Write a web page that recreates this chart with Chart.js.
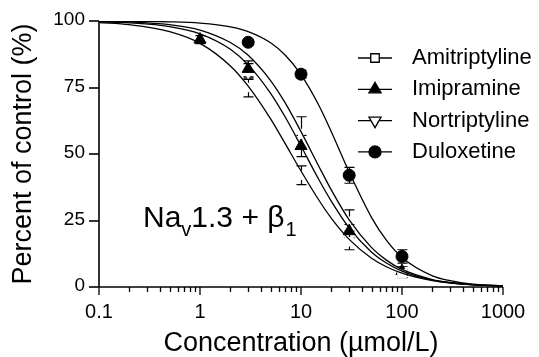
<!DOCTYPE html>
<html>
<head>
<meta charset="utf-8">
<script src="https://cdn.jsdelivr.net/npm/chart.js@4"></script>
<style>
  html, body { margin: 0; padding: 0; background: #fff; }
  #wrap { width: 539px; height: 357px; }
</style>
</head>
<body>
<div id="wrap"><canvas id="chart" width="539" height="357"></canvas></div>
<script>
// ── data ──────────────────────────────────────────────────
const drugs = ['Amitriptyline', 'Imipramine', 'Nortriptyline', 'Duloxetine'];

// fitted curves
const curveConc = [0.1, 0.2, 0.5, 1, 2, 3, 5, 7, 10, 15, 20, 30, 50, 70, 100, 200, 300, 500, 1000];
const amiCurve  = [99.4, 98.6, 96.0, 91.6, 83.1, 75.5, 63.2, 53.8, 43.6, 32.7, 25.8, 17.9, 10.8, 7.6, 5.2, 2.4, 1.5, 0.9, 0.4];
const imiCurve  = [99.7, 99.3, 97.9, 95.2, 89.4, 83.5, 72.8, 63.8, 53.0, 40.4, 32.2, 22.2, 13.1, 9.0, 6.0, 2.6, 1.6, 0.8, 0.4];
const norCurve  = [99.8, 99.6, 98.6, 96.6, 91.9, 87.1, 77.6, 69.1, 58.4, 45.4, 36.4, 25.2, 14.8, 10.1, 6.6, 2.8, 1.7, 0.9, 0.4];
const dulCurve  = [100, 99.9, 99.7, 99.2, 97.8, 96.0, 91.8, 87.1, 79.8, 68.3, 58.3, 43.2, 26.1, 17.6, 11.1, 4.2, 2.4, 1.1, 0.4];

// measured points (mean ± SEM)
const amiConc = [3, 10, 30, 100];
const amiMean = [75, 42, 17, 5];
const amiErr  = [3.5, 3.5, 3, 1.5];

const imiConc = [1, 3, 10, 30, 100];
const imiMean = [93, 82, 53, 21, 6];
const imiErr  = [1.5, 3, 4, 2.5, 1.5];

const norConc = [3, 10, 30, 100];
const norMean = [81, 58, 25, 6];
const norErr  = [3, 6, 4, 1.5];

const dulConc = [3, 10, 30, 100];
const dulMean = [92, 80, 42, 11.5];
const dulErr  = [1, 1.5, 3, 2.5];

const xTicks = [0.1, 1, 10, 100, 1000];
const xTickLabels = ['0.1', '1', '10', '100', '1000'];
const yTicks = [0, 25, 50, 75, 100];

const FONT = "'Liberation Sans', Arial, sans-serif";

// ── helpers ───────────────────────────────────────────────
const pts = (xs, ys) => xs.map((x, i) => ({ x: x, y: ys[i] }));

const markers = [
  { style: 'rect',     radius: 6, rot: 0,   fill: '#fff', hollow: true  },
  { style: 'triangle', radius: 7, rot: 0,   fill: '#000', hollow: false },
  { style: 'triangle', radius: 7, rot: 180, fill: '#fff', hollow: true  },
  { style: 'circle',   radius: 6, rot: 0,   fill: '#000', hollow: false }
];

const curves = [amiCurve, imiCurve, norCurve, dulCurve];
const pointSets = [
  { conc: amiConc, mean: amiMean, err: amiErr },
  { conc: imiConc, mean: imiMean, err: imiErr },
  { conc: norConc, mean: norMean, err: norErr },
  { conc: dulConc, mean: dulMean, err: dulErr }
];

const datasets = [];
curves.forEach((c, i) => {
  datasets.push({
    label: drugs[i] + ' fit',
    data: pts(curveConc, c),
    borderColor: '#000', borderWidth: 1.3,
    pointRadius: 0, fill: false,
    cubicInterpolationMode: 'monotone'
  });
});
pointSets.forEach((p, i) => {
  const m = markers[i];
  datasets.push({
    label: drugs[i],
    data: pts(p.conc, p.mean),
    showLine: false,
    pointStyle: m.style, pointRadius: m.radius, pointRotation: m.rot,
    pointBackgroundColor: m.fill,
    pointBorderColor: m.hollow ? '#fff' : '#000',
    pointBorderWidth: 1,
    clip: false
  });
});

// error bars under the markers
const errorBars = {
  id: 'errorBars',
  beforeDatasetsDraw(chart) {
    const { ctx, scales: { x, y } } = chart;
    ctx.save();
    ctx.strokeStyle = '#000';
    ctx.lineWidth = 1.2;
    pointSets.forEach(p => {
      p.conc.forEach((c, i) => {
        const px = Math.round(x.getPixelForValue(c)) + 0.5;
        const hi = y.getPixelForValue(p.mean[i] + p.err[i]);
        const lo = y.getPixelForValue(p.mean[i] - p.err[i]);
        ctx.beginPath();
        ctx.moveTo(px, hi); ctx.lineTo(px, lo);
        ctx.moveTo(px - 5, hi); ctx.lineTo(px + 5, hi);
        ctx.moveTo(px - 5, lo); ctx.lineTo(px + 5, lo);
        ctx.stroke();
      });
    });
    ctx.restore();
  }
};

// axes, titles, legend and label
const decor = {
  id: 'decor',
  afterDraw(chart) {
    const { ctx, chartArea: a, scales: { x, y } } = chart;
    ctx.save();
    ctx.strokeStyle = '#000';
    ctx.fillStyle = '#000';
    ctx.lineWidth = 1.6;

    // y axis
    const x0 = Math.round(x.getPixelForValue(xTicks[0]));
    const yb = Math.round(y.getPixelForValue(0));
    ctx.beginPath();
    ctx.moveTo(x0, y.getPixelForValue(100));
    ctx.lineTo(x0, yb);
    ctx.stroke();
    ctx.font = '19px ' + FONT;
    ctx.textAlign = 'right';
    ctx.textBaseline = 'middle';
    yTicks.forEach(v => {
      const py = Math.round(y.getPixelForValue(v));
      ctx.beginPath();
      ctx.moveTo(x0 - 10, py); ctx.lineTo(x0, py);
      ctx.stroke();
      ctx.fillText(String(v), x0 - 14, py - 1);
    });

    // x axis
    ctx.beginPath();
    ctx.moveTo(x0, yb);
    ctx.lineTo(x.getPixelForValue(xTicks[xTicks.length - 1]), yb);
    ctx.stroke();
    ctx.lineWidth = 1.3;
    xTicks.forEach((d, k) => {
      const px = Math.round(x.getPixelForValue(d));
      ctx.beginPath();
      ctx.moveTo(px, yb); ctx.lineTo(px, yb + 8);
      ctx.stroke();
      if (k < xTicks.length - 1) {
        for (let m = 2; m <= 9; m++) {
          const mx = Math.round(x.getPixelForValue(d * m)) + 0.5;
          ctx.beginPath();
          ctx.moveTo(mx, yb); ctx.lineTo(mx, yb + 5);
          ctx.stroke();
        }
      }
    });
    ctx.font = '20px ' + FONT;
    ctx.textAlign = 'center';
    xTicks.forEach((d, k) => {
      ctx.fillText(xTickLabels[k], x.getPixelForValue(d), yb + 25);
    });

    // titles
    ctx.font = '27px ' + FONT;
    ctx.fillText('Concentration (\u00b5mol/L)', (a.left + a.right) / 2, 344);
    ctx.save();
    ctx.translate(24, (a.top + a.bottom) / 2);
    ctx.rotate(-Math.PI / 2);
    ctx.fillText('Percent of control (%)', 0, 0);
    ctx.restore();

    // Nav1.3 + β1
    ctx.textAlign = 'left';
    ctx.textBaseline = 'alphabetic';
    let tx = 143;
    const base = 227;
    ctx.font = '30px ' + FONT;
    ctx.fillText('Na', tx, base); tx += ctx.measureText('Na').width;
    ctx.font = '20px ' + FONT;
    ctx.fillText('v', tx, base + 9); tx += ctx.measureText('v').width;
    ctx.font = '30px ' + FONT;
    ctx.fillText('1.3 + \u03b2', tx, base); tx += ctx.measureText('1.3 + \u03b2').width;
    ctx.font = '20px ' + FONT;
    ctx.fillText('1', tx + 1, base + 9);

    // legend
    ctx.font = '22px ' + FONT;
    ctx.textBaseline = 'middle';
    drugs.forEach((name, i) => {
      const ly = 58 + i * 31.3;
      const m = markers[i];
      ctx.lineWidth = 1.3;
      ctx.beginPath();
      ctx.moveTo(358, ly); ctx.lineTo(392, ly);
      ctx.stroke();
      ctx.fillStyle = m.fill;
      ctx.strokeStyle = '#000';
      Chart.helpers.drawPoint(ctx, {
        pointStyle: m.style, radius: m.radius, rotation: m.rot, borderWidth: 1.2
      }, 375, ly);
      ctx.fillStyle = '#000';
      ctx.fillText(name, 412, ly);
    });
    ctx.restore();
  }
};

new Chart(document.getElementById('chart').getContext('2d'), {
  type: 'line',
  data: { datasets: datasets },
  options: {
    responsive: false,
    devicePixelRatio: 1,
    animation: false,
    layout: { padding: { left: 99, right: 36, top: 21, bottom: 70 } },
    plugins: { legend: { display: false }, tooltip: { enabled: false } },
    scales: {
      x: { type: 'logarithmic', min: 0.1, max: 1000, display: false },
      y: { type: 'linear', min: 0, max: 100, display: false }
    }
  },
  plugins: [errorBars, decor]
});
</script>
</body>
</html>
